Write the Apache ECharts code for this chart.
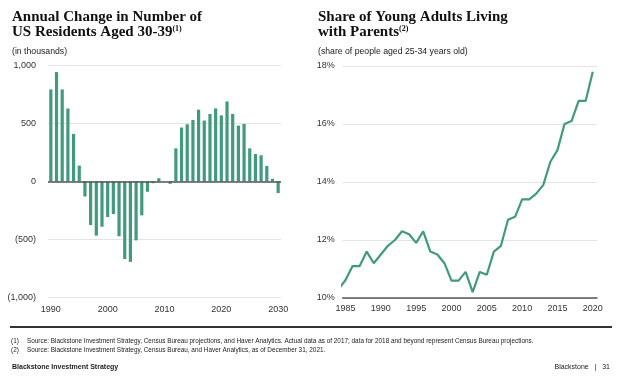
<!DOCTYPE html>
<html><head><meta charset="utf-8">
<script src="https://cdn.jsdelivr.net/npm/echarts@6/dist/echarts.min.js"></script>
<style>html,body{margin:0;padding:0;background:#fff;}#c{width:624px;height:381px;}</style>
</head><body><div id="c"></div>
<script>
// Left chart: annual change in number of US residents aged 30-39 (thousands)
const barYears = [1990,1991,1992,1993,1994,1995,1996,1997,1998,1999,2000,2001,2002,2003,2004,2005,2006,2007,2008,2009,2010,2011,2012,2013,2014,2015,2016,2017,2018,2019,2020,2021,2022,2023,2024,2025,2026,2027,2028,2029,2030];
const barValues = [795,945,795,630,410,137,-130,-376,-468,-391,-307,-282,-474,-670,-695,-509,-293,-89,-15,28,0,-20,286,466,494,531,620,526,583,631,571,691,583,483,497,286,237,226,134,23,-100];
const barYTicks = [-1000,-500,0,500,1000];
const barXLabels = ['1990','2000','2010','2020','2030'];

// Right chart: share of young adults (25-34) living with parents, %
const lineYears = [1984,1985,1986,1987,1988,1989,1990,1991,1992,1993,1994,1995,1996,1997,1998,1999,2000,2001,2002,2003,2004,2005,2006,2007,2008,2009,2010,2011,2012,2013,2014,2015,2016,2017,2018,2019,2020];
const lineValues = [10.3,10.62,11.1,11.1,11.6,11.2,11.5,11.8,12.0,12.3,12.2,11.9,12.3,11.6,11.5,11.2,10.6,10.6,10.9,10.2,10.9,10.8,11.6,11.8,12.7,12.8,13.4,13.4,13.6,13.9,14.7,15.1,16.0,16.1,16.8,16.8,17.8];
const lineXTicks = [1985,1990,1995,2000,2005,2010,2015,2020];
const lineYTicks = [10,12,14,16,18];

const GREEN = '#419a7e';
const GRID = '#e4e4e4';
const AXIS = '#555';
const LABEL = '#333';
const SANS = 'Liberation Sans';
const SERIF = 'Liberation Serif';

function fmtThousands(v){
  const a = Math.abs(v).toLocaleString('en-US');
  return v < 0 ? '(' + a + ')' : a;
}

const titleStyle = {fontFamily:SERIF, fontWeight:'bold', fontSize:15, lineHeight:15, color:'#111',
  rich:{sup:{fontFamily:SERIF, fontWeight:'bold', fontSize:8, color:'#111', verticalAlign:'top', padding:[0,0,6,0]}}};
const subStyle = {fontFamily:SANS, fontSize:8.7, fontWeight:'normal', color:'#222'};
const FN = '6.4px "Liberation Sans"';

const chart = echarts.init(document.getElementById('c'), null, {renderer:'canvas'});
chart.setOption({
  animation:false,
  backgroundColor:'#fff',
  title:[
    {text:'Annual Change in Number of\nUS Residents Aged 30-39{sup|(1)}', left:12, top:10, padding:0, textStyle:titleStyle},
    {text:'(in thousands)', left:12, top:47, padding:0, textStyle:subStyle},
    {text:'Share of Young Adults Living\nwith Parents{sup|(2)}', left:318, top:10, padding:0, textStyle:titleStyle},
    {text:'(share of people aged 25-34 years old)', left:318, top:47, padding:0, textStyle:subStyle}
  ],
  grid:[
    {left:48, top:65.7, width:233, height:231.5},
    {left:342.7, top:66, width:254.3, height:232}
  ],
  xAxis:[
    {type:'category', gridIndex:0, data:barYears.map(String), boundaryGap:true,
     axisLine:{show:false}, axisTick:{show:false},
     axisLabel:{color:LABEL, fontFamily:SANS, fontSize:9, margin:8,
       interval:(i,v)=>barXLabels.indexOf(v)>=0}},
    {type:'value', gridIndex:1, min:1984.6, max:2020.6,
     axisLine:{show:true, onZero:false, lineStyle:{color:AXIS, width:1.5}}, axisTick:{show:false},
     splitLine:{show:false},
     axisLabel:{color:LABEL, fontFamily:SANS, fontSize:9, margin:6, customValues:lineXTicks, formatter:v=>String(v)}}
  ],
  yAxis:[
    {type:'value', gridIndex:0, min:barYTicks[0], max:barYTicks[barYTicks.length-1], interval:500,
     axisLine:{show:false}, axisTick:{show:false},
     splitLine:{lineStyle:{color:GRID, width:1.2}},
     axisLabel:{color:LABEL, fontFamily:SANS, fontSize:9, margin:12, formatter:fmtThousands}},
    {type:'value', gridIndex:1, min:lineYTicks[0], max:lineYTicks[lineYTicks.length-1], interval:2,
     axisLine:{show:false}, axisTick:{show:false},
     splitLine:{lineStyle:{color:GRID, width:1.2}},
     axisLabel:{color:LABEL, fontFamily:SANS, fontSize:9, margin:8, formatter:'{value}%'}}
  ],
  series:[
    {type:'bar', xAxisIndex:0, yAxisIndex:0, data:barValues, barWidth:3.2,
     itemStyle:{color:GREEN},
     markLine:{silent:true, symbol:'none', label:{show:false},
       lineStyle:{color:AXIS, width:1.5, type:'solid'}, data:[{yAxis:0}]}},
    {type:'line', xAxisIndex:1, yAxisIndex:1, data:lineYears.map((y,i)=>[y,lineValues[i]]),
     showSymbol:false, symbol:'none', clip:true, lineStyle:{color:GREEN, width:2.2}}
  ],
  graphic:[
    {type:'rect', shape:{x:10, y:326, width:602, height:2}, style:{fill:'#333'}},
    {type:'text', left:11, top:338, style:{text:'(1)', font:FN, fill:'#222'}},
    {type:'text', left:27, top:338, style:{text:'Source: Blackstone Investment Strategy, Census Bureau projections, and Haver Analytics. Actual data as of 2017; data for 2018 and beyond represent Census Bureau projections.', font:FN, fill:'#222'}},
    {type:'text', left:11, top:347, style:{text:'(2)', font:FN, fill:'#222'}},
    {type:'text', left:27, top:347, style:{text:'Source: Blackstone Investment Strategy, Census Bureau, and Haver Analytics, as of December 31, 2021.', font:FN, fill:'#222'}},
    {type:'text', left:12, top:364, style:{text:'Blackstone Investment Strategy', font:'bold 7px "Liberation Sans"', fill:'#222'}},
    {type:'text', right:14, top:364, style:{text:'Blackstone   |   31', font:'7px "Liberation Sans"', fill:'#222'}}
  ]
});
</script></body></html>
